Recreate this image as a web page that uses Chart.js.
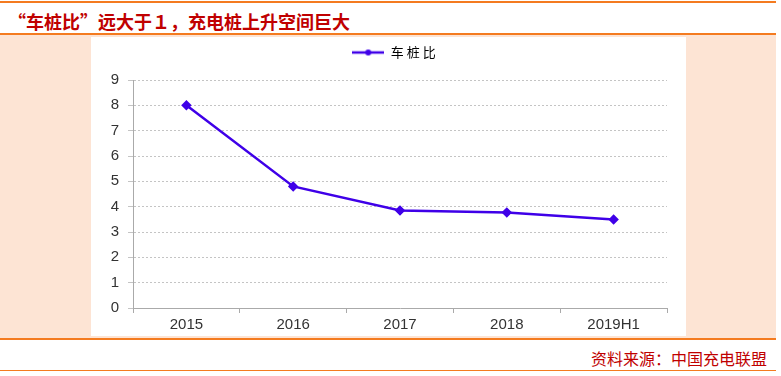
<!DOCTYPE html>
<html>
<head>
<meta charset="utf-8">
<script src="https://cdn.jsdelivr.net/npm/chart.js@4/dist/chart.umd.min.js"></script>
<style>
  html, body { margin: 0; padding: 0; background: #fff; }
  body { width: 781px; height: 376px; position: relative; overflow: hidden; font-family: "Noto Sans CJK SC", sans-serif; }
  .rule { position: absolute; left: 0; width: 776px; background: #f47b20; }
  #title { position: absolute; left: 8px; top: 8px; font-size: 18px; font-weight: bold; color: #c00000; line-height: 26px; white-space: nowrap; }
  #panel { position: absolute; left: 0; top: 35px; width: 776px; height: 303px; background: #fde4d4; }
  #box { position: absolute; left: 91px; top: 37px; width: 595px; height: 299px; background: #fff; }
  #source { position: absolute; right: 14px; top: 347px; font-size: 16px; color: #c00000; line-height: 22px; white-space: nowrap; }
</style>
</head>
<body>
<div class="rule" style="top:1px;height:2px"></div>
<div id="title">“车桩比”远大于１，充电桩上升空间巨大</div>
<div class="rule" style="top:33px;height:2px"></div>
<div id="panel"></div>
<div id="box"><canvas id="chart" width="595" height="299"></canvas></div>
<div class="rule" style="top:338px;height:2px"></div>
<div id="source">资料来源：中国充电联盟</div>
<div class="rule" style="top:370px;height:1px"></div>

<script>
// data
const years = ["2015", "2016", "2017", "2018", "2019H1"];
const ratio = [8.0, 4.8, 3.85, 3.77, 3.49];
const seriesName = "车桩比";
const lineColor = "#3f00e8";

// legend marker: short line with a dot in the middle
const marker = document.createElement("canvas");
marker.width = 32;
marker.height = 8;
const mctx = marker.getContext("2d");
mctx.strokeStyle = lineColor;
mctx.lineWidth = 2.5;
mctx.beginPath();
mctx.moveTo(0, 4);
mctx.lineTo(32, 4);
mctx.stroke();
mctx.fillStyle = lineColor;
mctx.beginPath();
mctx.arc(16, 4, 3, 0, Math.PI * 2);
mctx.fill();

// legend sits a bit right of centre and has wide letter spacing
const legendTweaks = {
  id: "legendTweaks",
  beforeInit(chart) {
    const fit = chart.legend.fit;
    chart.legend.fit = function () {
      fit.bind(chart.legend)();
      this.height = 43;
    };
    const draw = chart.legend.draw;
    chart.legend.draw = function () {
      this.ctx.save();
      this.ctx.letterSpacing = "3px";
      draw.bind(chart.legend)();
      this.ctx.restore();
    };
  },
  afterLayout(chart) {
    chart.legend.left += 12;
    chart.legend.right += 12;
  },
};

const ctx = document.getElementById("chart").getContext("2d");
new Chart(ctx, {
  type: "line",
  data: {
    labels: years,
    datasets: [
      {
        label: seriesName,
        data: ratio,
        borderColor: lineColor,
        backgroundColor: lineColor,
        borderWidth: 2.5,
        pointStyle: "rectRot",
        pointRadius: 3.5,
        pointBackgroundColor: lineColor,
        pointBorderColor: lineColor,
        tension: 0,
      },
    ],
  },
  options: {
    responsive: false,
    animation: false,
    devicePixelRatio: 1,
    layout: { padding: { left: 0, right: 19, top: 0, bottom: 0 } },
    plugins: {
      legend: {
        display: true,
        position: "top",
        labels: {
          usePointStyle: true,
          pointStyle: marker,
          pointStyleWidth: 32,
          padding: 9,
          color: "#666",
          font: { family: "'Noto Sans CJK SC'", size: 13 },
          generateLabels: (chart) => [
            {
              text: seriesName,
              pointStyle: marker,
              fillStyle: lineColor,
              strokeStyle: lineColor,
              lineWidth: 0,
              datasetIndex: 0,
            },
          ],
        },
      },
      tooltip: { enabled: false },
    },
    scales: {
      x: {
        offset: true,
        grid: { offset: true, drawOnChartArea: false, drawTicks: true, tickLength: 5, color: "#aaa" },
        border: { display: true, color: "#aaa", width: 1 },
        ticks: { color: "#333", padding: 3, font: { family: "'Liberation Sans'", size: 15 } },
        afterFit: (scale) => { scale.height = 28; },
      },
      y: {
        min: 0,
        max: 9,
        ticks: { stepSize: 1, color: "#333", padding: 9, font: { family: "'Liberation Sans'", size: 15 } },
        grid: { color: "#c4c4c4", tickLength: 5, tickBorderDash: [] },
        border: { display: true, color: "#aaa", width: 1, dash: [2, 2] },
        afterFit: (scale) => { scale.width = 42; },
      },
    },
  },
  plugins: [legendTweaks],
});
</script>
</body>
</html>
